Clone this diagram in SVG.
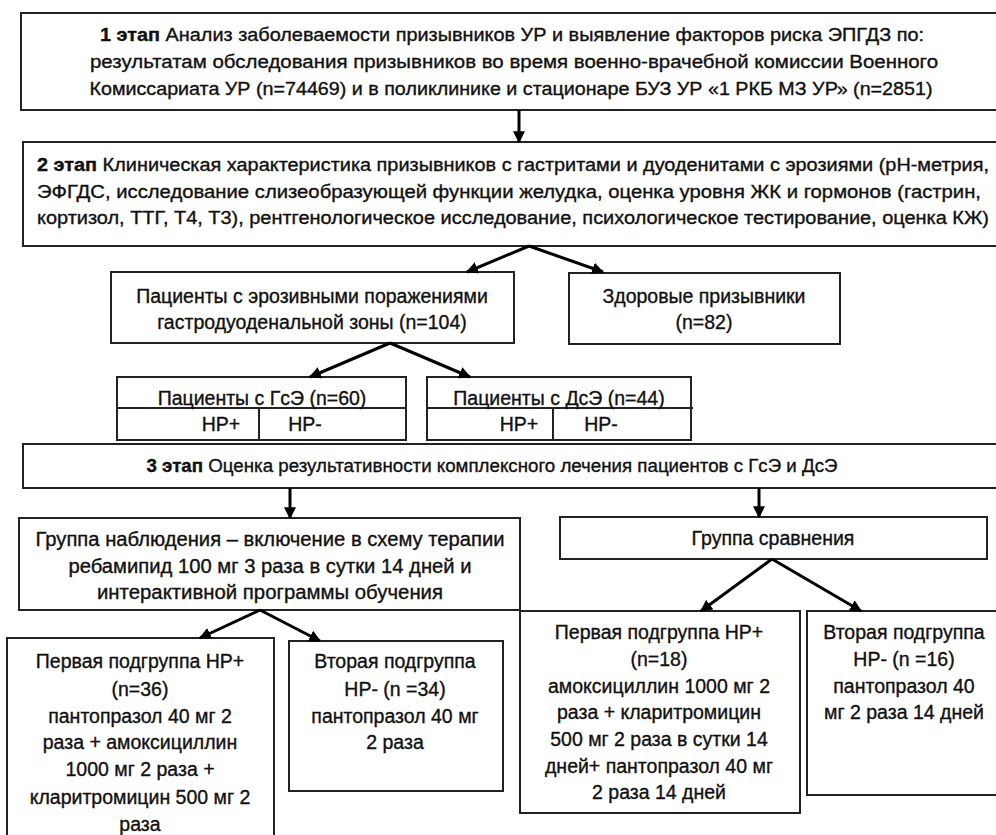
<svg xmlns="http://www.w3.org/2000/svg" width="996" height="835" viewBox="0 0 996 835">
<defs>
<marker id="ah" viewBox="0 0 10 10" refX="9" refY="5" markerWidth="12" markerHeight="12" markerUnits="userSpaceOnUse" orient="auto">
<path d="M0,0 L10,5 L0,10 z" fill="#000"/>
</marker>
<style>
.box{fill:#fff;stroke:#222;stroke-width:2}
.ln{fill:none;stroke:#222;stroke-width:2}
.t{font-family:"Liberation Sans",Arial,sans-serif;font-size:19.5px;fill:#111;stroke:#111;stroke-width:0.35;text-anchor:middle}
.w{font-size:18px}
.b{font-weight:bold}
.c{stroke:#000;stroke-width:3;fill:none;marker-end:url(#ah)}
</style>
</defs>
<rect width="996" height="835" fill="#fff"/>

<g id="stage1">
<rect class="box" x="21" y="13" width="985" height="97"/>
<text class="t w" x="512" y="41" textLength="824" lengthAdjust="spacingAndGlyphs"><tspan class="b">1 этап</tspan> Анализ заболеваемости призывников УР и выявление факторов риска ЭПГДЗ по:</text>
<text class="t w" x="514" y="68" textLength="848" lengthAdjust="spacingAndGlyphs">результатам обследования призывников во время военно-врачебной комиссии Военного</text>
<text class="t w" x="511" y="95" textLength="843" lengthAdjust="spacingAndGlyphs">Комиссариата УР (n=74469) и в поликлинике и стационаре БУЗ УР «1 РКБ МЗ УР» (n=2851)</text>
</g>

<g id="stage2">
<rect class="box" x="23" y="142" width="983" height="104"/>
<text class="t w" x="513" y="171" textLength="952" lengthAdjust="spacingAndGlyphs"><tspan class="b">2 этап</tspan> Клиническая характеристика призывников с гастритами и дуоденитами с эрозиями (рН-метрия,</text>
<text class="t w" x="509" y="198" textLength="944" lengthAdjust="spacingAndGlyphs">ЭФГДС, исследование слизеобразующей функции желудка, оценка уровня ЖК и гормонов (гастрин,</text>
<text class="t w" x="513" y="224" textLength="952" lengthAdjust="spacingAndGlyphs">кортизол, ТТГ, Т4, Т3),  рентгенологическое исследование, психологическое тестирование, оценка КЖ)</text>
</g>

<g id="erosive">
<rect class="box" x="111" y="272" width="403" height="71"/>
<text class="t" x="312" y="303">Пациенты с эрозивными поражениями</text>
<text class="t" x="312" y="329">гастродуоденальной зоны (n=104)</text>
</g>

<g id="healthy">
<rect class="box" x="569" y="273" width="271" height="71"/>
<text class="t" x="704" y="303">Здоровые призывники</text>
<text class="t" x="704" y="329">(n=82)</text>
</g>

<g id="gse">
<rect class="box" x="117" y="377" width="289" height="63"/>
<line class="ln" x1="117" y1="408" x2="406" y2="408"/>
<line class="ln" x1="259" y1="408" x2="259" y2="440"/>
<text class="t" x="262" y="405">Пациенты с ГсЭ (n=60)</text>
<text class="t" x="221" y="431">HP+</text>
<text class="t" x="305" y="431">HP-</text>
</g>

<g id="dse">
<rect class="box" x="427" y="377" width="264" height="63"/>
<line class="ln" x1="427" y1="408" x2="693" y2="408"/>
<line class="ln" x1="553" y1="408" x2="553" y2="440"/>
<text class="t" x="559" y="405">Пациенты с ДсЭ (n=44)</text>
<text class="t" x="519" y="431">HP+</text>
<text class="t" x="601" y="431">HP-</text>
</g>

<g id="stage3">
<rect class="box" x="23" y="444" width="983" height="44"/>
<text class="t w" x="492" y="472" textLength="691" lengthAdjust="spacingAndGlyphs"><tspan class="b">3 этап</tspan> Оценка результативности комплексного лечения пациентов с ГсЭ и ДсЭ</text>
</g>

<g id="observation">
<rect class="box" x="19" y="518" width="501" height="92"/>
<text class="t" x="270" y="546" textLength="469" lengthAdjust="spacingAndGlyphs">Группа наблюдения – включение в схему терапии</text>
<text class="t" x="270" y="573" textLength="403" lengthAdjust="spacingAndGlyphs">ребамипид 100 мг 3 раза в сутки 14 дней и</text>
<text class="t" x="270" y="599" textLength="346" lengthAdjust="spacingAndGlyphs">интерактивной программы обучения</text>
</g>

<g id="comparison">
<rect class="box" x="560" y="517" width="427" height="42"/>
<text class="t" x="773" y="545">Группа сравнения</text>
</g>

<g id="obs-hp-plus">
<rect class="box" x="7" y="638" width="267" height="215"/>
<text class="t" x="140" y="668">Первая подгруппа HP+</text>
<text class="t" x="140" y="696">(n=36)</text>
<text class="t" x="140" y="723">пантопразол 40 мг 2</text>
<text class="t" x="140" y="749">раза + амоксициллин</text>
<text class="t" x="140" y="776">1000 мг 2 раза +</text>
<text class="t" x="140" y="804">кларитромицин 500 мг 2</text>
<text class="t" x="140" y="831">раза</text>
</g>

<g id="obs-hp-minus">
<rect class="box" x="289" y="641" width="214" height="150"/>
<text class="t" x="395" y="668">Вторая подгруппа</text>
<text class="t" x="395" y="696">HP- (n =34)</text>
<text class="t" x="395" y="723">пантопразол 40 мг</text>
<text class="t" x="395" y="749">2 раза</text>
</g>

<g id="cmp-hp-plus">
<rect class="box" x="520" y="611" width="280" height="202"/>
<text class="t" x="659" y="639">Первая подгруппа HP+</text>
<text class="t" x="659" y="666">(n=18)</text>
<text class="t" x="659" y="693">амоксициллин 1000 мг 2</text>
<text class="t" x="659" y="719">раза + кларитромицин</text>
<text class="t" x="659" y="746">500 мг 2 раза в сутки 14</text>
<text class="t" x="659" y="773">дней+ пантопразол 40 мг</text>
<text class="t" x="659" y="799">2 раза 14 дней</text>
</g>

<g id="cmp-hp-minus">
<rect class="box" x="807" y="611" width="200" height="184"/>
<text class="t" x="904" y="639">Вторая подгруппа</text>
<text class="t" x="904" y="666">HP- (n =16)</text>
<text class="t" x="904" y="693">пантопразол 40</text>
<text class="t" x="904" y="719">мг 2 раза 14 дней</text>
</g>

<g id="connectors">
<line class="c" x1="519" y1="110" x2="519" y2="142"/>
<line class="c" x1="529" y1="246" x2="467" y2="272"/>
<line class="c" x1="529" y1="246" x2="603" y2="272"/>
<line class="c" x1="390" y1="343" x2="310" y2="377"/>
<line class="c" x1="390" y1="343" x2="470" y2="377"/>
<line class="c" x1="290" y1="488" x2="290" y2="518"/>
<line class="c" x1="759" y1="488" x2="759" y2="517"/>
<line class="c" x1="260" y1="610" x2="200" y2="638"/>
<line class="c" x1="260" y1="610" x2="320" y2="641"/>
<line class="c" x1="772" y1="559" x2="701" y2="611"/>
<line class="c" x1="772" y1="559" x2="861" y2="611"/>
</g>
</svg>
